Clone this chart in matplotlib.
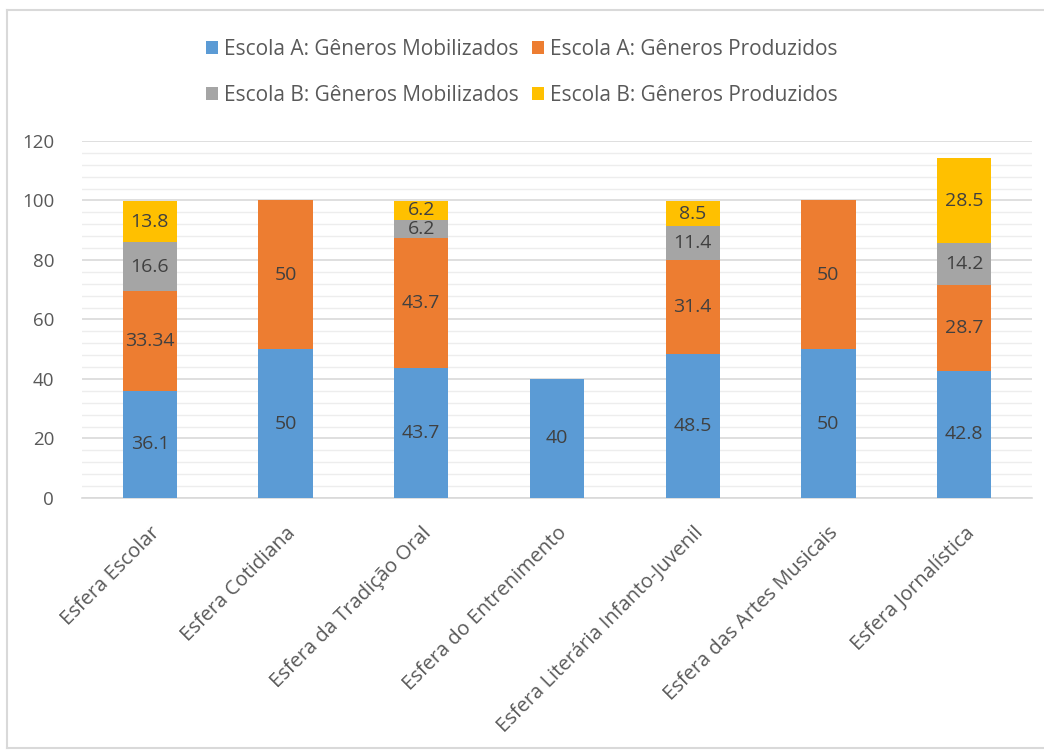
import numpy as np
import matplotlib
matplotlib.use("Agg")
import matplotlib.pyplot as plt
from matplotlib.lines import Line2D

plt.rcParams['font.family'] = ['Open Sans', 'DejaVu Sans']

categorias = ["Esfera Escolar", "Esfera Cotidiana", "Esfera da Tradição Oral",
              "Esfera do Entrenimento", "Esfera Literária Infanto-Juvenil",
              "Esfera das Artes Musicais", "Esfera Jornalística"]
a_mobilizados = [36.1, 50, 43.7, 40, 48.5, 50, 42.8]
a_produzidos = [33.34, 50, 43.7, 0, 31.4, 50, 28.7]
b_mobilizados = [16.6, 0, 6.2, 0, 11.4, 0, 14.2]
b_produzidos = [13.8, 0, 6.2, 0, 8.5, 0, 28.5]
series_nomes = ["Escola A: Gêneros Mobilizados", "Escola A: Gêneros Produzidos",
                "Escola B: Gêneros Mobilizados", "Escola B: Gêneros Produzidos"]
cores = ["#5B9BD5", "#ED7D31", "#A5A5A5", "#FFC000"]

fig = plt.figure(figsize=(10.44, 7.55), dpi=100)
ax = fig.add_axes([82/1044, 1-498/755, 950/1044, 357/755])

x = np.arange(len(categorias))
base = np.zeros(len(categorias))
barras = []
for vals, cor, nome in zip([a_mobilizados, a_produzidos, b_mobilizados, b_produzidos], cores, series_nomes):
    vals = np.array(vals, dtype=float)
    b = ax.bar(x, vals, 0.4, bottom=base, color=cor, label=nome, zorder=3)
    barras.append(b)
    for xi, v, bo in zip(x, vals, base):
        if v > 0:
            ax.text(xi, bo + v/2, f"{v:g}", ha='center', va='center', fontsize=14,
                    color='#404040', zorder=4)
    base = base + vals

ax.set_xlim(-0.5, 6.5)
ax.set_ylim(0, 120)
ax.set_yticks(np.arange(0, 121, 20))
ax.set_yticks(np.arange(0, 121, 4), minor=True)
ax.grid(axis='y', which='major', color='#D9D9D9', lw=1.2, zorder=0)
ax.grid(axis='y', which='minor', color='#EDEDED', lw=1.0, zorder=0)
ax.set_xticks(x)
ax.set_xticklabels(categorias, rotation=45, ha='right', rotation_mode='anchor',
                   fontsize=14.5, color='#595959')
ax.tick_params(axis='y', which='both', length=0, labelsize=13.5, labelcolor='#595959', pad=20)
ax.tick_params(axis='x', length=0, pad=18)
for s in ['top', 'right', 'left']:
    ax.spines[s].set_visible(False)
ax.spines['bottom'].set_color('#D9D9D9')
ax.spines['bottom'].set_linewidth(1.2)

ordem = [0, 2, 1, 3]
fig.legend([barras[i] for i in ordem], [series_nomes[i] for i in ordem],
           loc='center', bbox_to_anchor=(0.5, 0.904), ncol=2, frameon=False,
           fontsize=15, labelcolor='#595959', handlelength=0.6, handleheight=0.6,
           handletextpad=0.3, columnspacing=0.6, labelspacing=1.2)

# moldura do gráfico
borda = '#D9D9D9'
fig.add_artist(Line2D([7/1044, 1], [1-10/755, 1-10/755], color=borda, lw=1.5))
fig.add_artist(Line2D([7/1044, 7/1044], [1-10/755, 1-748/755], color=borda, lw=1.5))
fig.add_artist(Line2D([7/1044, 1], [1-748/755, 1-748/755], color=borda, lw=1.5))

fig.savefig("out.png", dpi=100)
